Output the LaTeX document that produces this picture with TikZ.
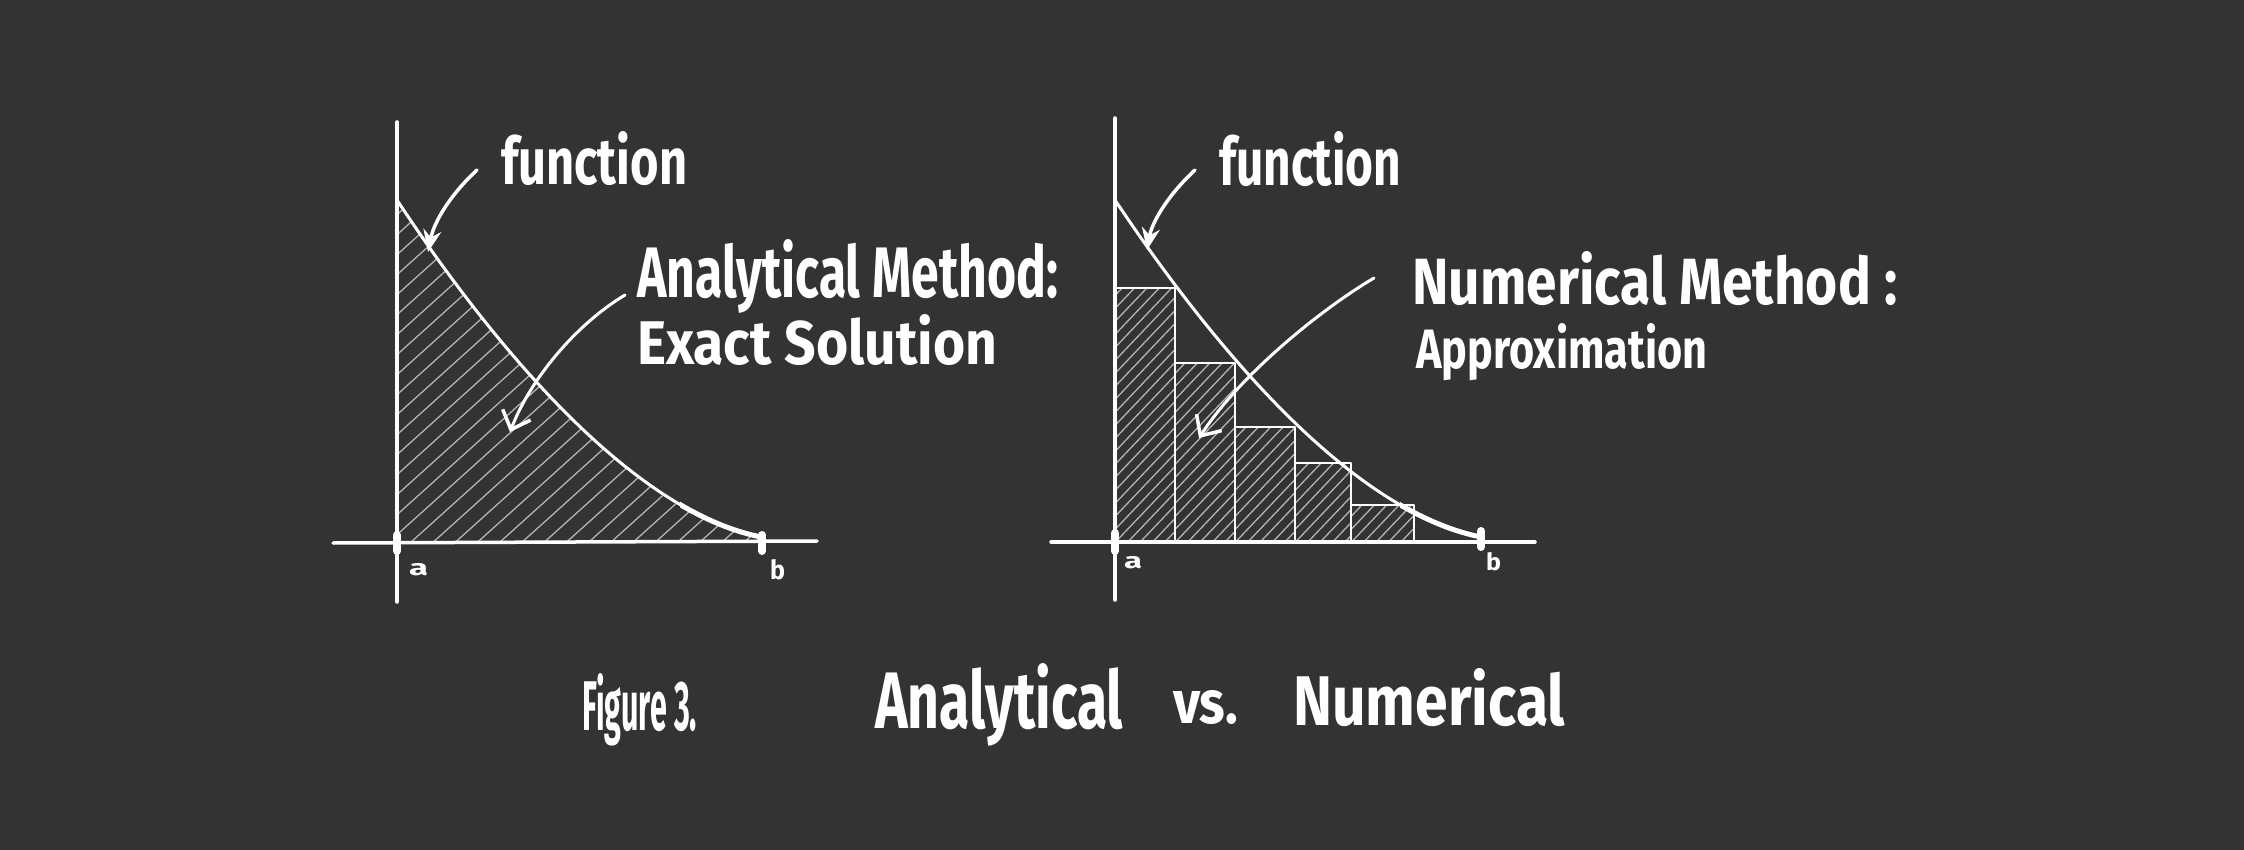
\documentclass[tikz,border=0pt]{standalone}
\usepackage{fontspec}
\usepackage{graphicx}
\setmainfont{Fira Sans}
\usetikzlibrary{arrows.meta}
\definecolor{bg}{HTML}{333333}
\definecolor{hatchc}{HTML}{B4B4B4}
\newcommand{\hw}[3]{\resizebox{#1pt}{#2pt}{\bfseries #3}}
\tikzset{
  axisline/.style={white, line width=3.5pt, line cap=round},
  curveline/.style={white, line width=3pt, line cap=round},
  tickmark/.style={white, line width=8pt, line cap=round},
  rectline/.style={white, line width=2.5pt, line join=round},
  hatchline/.style={hatchc, line width=1.3pt, line cap=round},
  txt/.style={white, inner sep=0pt, anchor=base west},
  fnarrow/.style={white, line width=3.5pt, line cap=round, -{Stealth[length=22pt, width=18pt]}},
  mtarrow/.style={white, line width=3pt, line cap=round, -{Straight Barb[length=16pt, width=30pt, line width=3.5pt]}}
}
\begin{document}
\begin{tikzpicture}[x=1pt,y=-1pt]
\useasboundingbox (0,0) rectangle (2244,850);
\fill[bg] (0,0) rectangle (2244,850);

% ---------- left graph ----------
\begin{scope}
\clip (397,200) .. controls (476,320) and (621,509) .. (761,537) -- (761,542) -- (397,542) -- cycle;
\foreach \i in {0,...,50} {
  \draw[hatchline] (380,{150+\i*20}) -- ++(500,-450);
}
\end{scope}
\draw[axisline] (333,543) -- (817,541);
\draw[axisline] (397,122) -- (397,602);
\draw[curveline] (397,200) .. controls (476,320) and (621,509) .. (761,537);
\begin{scope}
\clip (680,440) rectangle (800,560);
\draw[white, line width=5pt, line cap=round] (397,200) .. controls (476,320) and (621,509) .. (761,537);
\end{scope}
\draw[tickmark] (397,535) -- (397,551);
\draw[tickmark] (762,535) -- (762,551);
\node[txt] (la) at (409,575) {\hw{19}{12}{a}};
\node[txt] (lb) at (770,579) {\hw{15}{20}{b}};

\node[txt] (lfun) at (501,185) {\hw{186}{53}{function}};
\node[txt] (lmeth) at (637,298) {\hw{421}{58}{Analytical Method:}};
\node[txt] (lsol) at (637,365) {\hw{360}{50}{Exact Solution}};

\coordinate (lfs) at (477,170);
\coordinate (lft) at (428,252);
\draw[fnarrow] (lfs) .. controls (450,195) and (434,222) .. (lft);
\coordinate (lms) at (625,295);
\coordinate (lmt) at (510,432);
\draw[mtarrow] (lms) .. controls (575,325) and (530,380) .. (lmt);

% ---------- right graph ----------
\foreach \xa/\xb/\yt [count=\k] in {1115/1175/288, 1175/1235/363, 1235/1295/427, 1295/1351/463, 1351/1414/505} {
  \begin{scope}
  \clip (\xa,\yt) rectangle (\xb,542);
  \foreach \i in {0,...,32} {
    \draw[hatchline] (\xa-10,{280+\i*13}) -- ++(300,-315);
  }
  \end{scope}
  \draw[rectline] (\xa,542) -- (\xa,\yt) -- (\xb,\yt) -- (\xb,542);
}
\draw[axisline] (1051,542) -- (1535,542);
\draw[axisline] (1115,118) -- (1115,600);
\draw[curveline] (1115,200) .. controls (1195,320) and (1340,509) .. (1481,537);
\begin{scope}
\clip (1400,440) rectangle (1520,560);
\draw[white, line width=5pt, line cap=round] (1115,200) .. controls (1195,320) and (1340,509) .. (1481,537);
\end{scope}
\draw[tickmark] (1115,533) -- (1115,551);
\draw[tickmark] (1481,531) -- (1481,547);
\node[txt] (ra) at (1124,568) {\hw{18}{12}{a}};
\node[txt] (rb) at (1486,570) {\hw{15}{18}{b}};

\node[txt] (rfun) at (1219,186) {\hw{182}{54}{function}};
\node[txt] (rmeth) at (1412,305) {\hw{485}{53}{Numerical Method :}};
\node[txt] (rsol) at (1416,368) {\hw{291}{45}{Approximation}};

\coordinate (rfs) at (1195,170);
\coordinate (rft) at (1147,250);
\draw[fnarrow] (rfs) .. controls (1168,195) and (1152,222) .. (rft);
\coordinate (rms) at (1374,278);
\coordinate (rmt) at (1199,438);
\draw[mtarrow] (rms) .. controls (1320,310) and (1240,375) .. (rmt);

% ---------- caption ----------
\node[txt] (cap1) at (582,730) {\hw{115}{57}{Figure 3.}};
\node[txt] (cap2) at (875,728) {\hw{248}{65}{Analytical}};
\node[txt] (cap3) at (1173,723) {\hw{65}{33}{vs.}};
\node[txt] (cap4) at (1293,725) {\hw{272}{57}{Numerical}};
\end{tikzpicture}
\end{document}
